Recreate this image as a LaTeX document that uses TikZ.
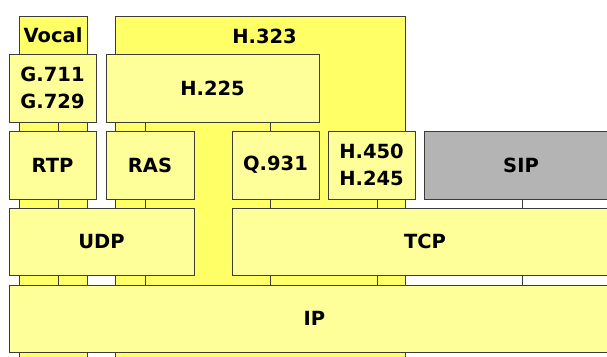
\documentclass[tikz,border=0pt]{standalone}
\usepackage{fontspec}
\setmainfont{DejaVu Sans}
\definecolor{colyel}{RGB}{255,255,102}
\definecolor{boxyel}{RGB}{255,255,153}
\definecolor{sipgray}{RGB}{180,180,180}
\definecolor{edge}{RGB}{60,60,60}
\tikzset{
  px/.style={x=1pt,y=-1pt},
  colbox/.style={draw=edge,fill=colyel,line width=1pt,rectangle,inner sep=0pt,anchor=north west},
  layerbox/.style={draw=edge,fill=boxyel,line width=1pt,rectangle,inner sep=0pt,align=center,
    font=\fontsize{19.5}{27}\selectfont\bfseries},
  conn/.style={draw=edge,line width=1pt},
  lbl/.style={font=\fontsize{19.5}{27}\selectfont\bfseries,inner sep=0pt}
}
\begin{document}
\begin{tikzpicture}[px]
\useasboundingbox (0,0) rectangle (607,356);
\fill[white] (0,0) rectangle (607,356);
% columns
\node[colbox,minimum width=68pt,minimum height=360pt] (vocalcol) at (19,16) {};
\node[colbox,minimum width=290pt,minimum height=360pt] (h323col) at (115,16) {};
\node[lbl] (vocal) at (53,35) {Vocal};
\node[lbl] (h323) at (264.5,36) {H.323};
% boxes (first as coordinates for connectors)
\node[layerbox,minimum width=87pt,minimum height=68pt] (g711) at (52.5,88) {G.711\\G.729};
\node[layerbox,minimum width=213pt,minimum height=68pt] (h225) at (212.5,88) {H.225};
\node[layerbox,minimum width=611pt,minimum height=67pt] (ip) at (314.5,318.5) {IP};
\node[layerbox,fill=sipgray,minimum width=194pt,minimum height=68pt] (sip) at (521,165) {SIP};
\node[layerbox,minimum width=87pt,minimum height=68pt] (h450) at (371.5,165) {H.450\\H.245};
% connectors
\draw[conn] (g711.south -| 58,0) -- (ip.north -| 58,0);
\draw[conn] (h225.south -| 145,0) -- (ip.north -| 145,0);
\draw[conn] (h225.south -| 270.5,0) -- (ip.north -| 270.5,0);
\draw[conn] (h450.south -| 377,0) -- (ip.north -| 377,0);
\draw[conn] (sip.south -| 522,0) -- (ip.north -| 522,0);
% redraw boxes on top of connectors
\node[layerbox,minimum width=87pt,minimum height=68pt] at (g711) {G.711\\G.729};
\node[layerbox,minimum width=213pt,minimum height=68pt] at (h225) {H.225};
\node[layerbox,minimum width=87pt,minimum height=68pt] (rtp) at (52.5,165) {RTP};
\node[layerbox,minimum width=88pt,minimum height=68pt] (ras) at (150,165) {RAS};
\node[layerbox,minimum width=87pt,minimum height=68pt] (q931) at (275.5,165) {Q.931};
\node[layerbox,minimum width=87pt,minimum height=68pt] at (h450) {H.450\\H.245};
\node[layerbox,fill=sipgray,minimum width=194pt,minimum height=68pt] at (sip) {SIP};
\node[layerbox,minimum width=185pt,minimum height=67pt] (udp) at (101.5,241.5) {UDP};
\node[layerbox,minimum width=386pt,minimum height=67pt] (tcp) at (425,241.5) {TCP};
\node[layerbox,minimum width=611pt,minimum height=67pt] at (ip) {IP};
\end{tikzpicture}
\end{document}
